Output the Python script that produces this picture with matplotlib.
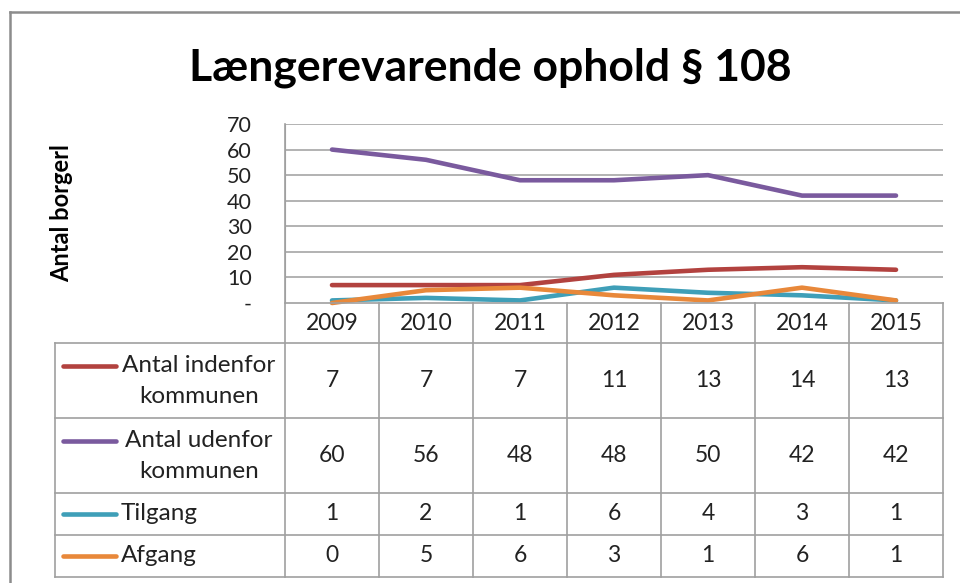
import matplotlib
matplotlib.use("Agg")
import matplotlib.pyplot as plt
import matplotlib.transforms as transforms
from matplotlib.lines import Line2D

years = ["2009", "2010", "2011", "2012", "2013", "2014", "2015"]
series_names = ["Antal indenfor\nkommunen", "Antal udenfor\nkommunen", "Tilgang", "Afgang"]
indenfor = [7, 7, 7, 11, 13, 14, 13]
udenfor = [60, 56, 48, 48, 50, 42, 42]
tilgang = [1, 2, 1, 6, 4, 3, 1]
afgang = [0, 5, 6, 3, 1, 6, 1]
series_colors = ["#B2423F", "#7A5A9E", "#3F9FB8", "#E8883A"]
yticks = [0, 10, 20, 30, 40, 50, 60, 70]
ytick_labels = ["-", "10", "20", "30", "40", "50", "60", "70"]

W, H = 960, 583
FONT = ["Lato", "DejaVu Sans"]


def fy(y):
    # image pixel row -> figure fraction
    return 1 - y / H


def fx(x):
    return x / W


def main():
    plt.rcParams['font.family'] = FONT
    fig = plt.figure(figsize=(W / 100, H / 100), dpi=100)
    fig.patch.set_facecolor("white")

    left, right, top, bottom = 285, 943, 124, 303
    ax = fig.add_axes([fx(left), fy(bottom), fx(right - left), (bottom - top) / H])
    ax.set_xlim(-0.5, 6.5)
    ax.set_ylim(0, 70)
    for s in ["top", "right", "bottom"]:
        ax.spines[s].set_visible(False)
    ax.spines["left"].set_color("#A0A0A0")
    ax.set_xticks([])
    ax.set_yticks(yticks)
    ax.set_yticklabels(ytick_labels, fontsize=15.5, color="#222222")
    ax.tick_params(axis="y", length=0, pad=24)
    for v in yticks[1:]:
        ax.axhline(v, color="#A6A6A6", lw=1.2, zorder=1)

    all_series = [indenfor, udenfor, tilgang, afgang]
    xs = list(range(len(years)))
    for vals, c in zip(all_series, series_colors):
        ax.plot(xs, vals, color=c, lw=3.3, solid_capstyle="round", clip_on=False, zorder=3)

    # title and axis label
    fig.text(fx(490), fy(68), "Længerevarende ophold § 108", ha="center", va="center",
             fontsize=32, fontweight="bold", color="black")
    fig.text(fx(62), fy(213), "Antal borgerl", rotation=90, ha="center", va="center",
             fontsize=17, fontweight="bold", color="black")

    # data table under the plot
    grid_c = "#A0A0A0"
    rows = [303, 343, 418, 493, 535, 577]
    col_edges = [left + i * (right - left) / 7 for i in range(8)]
    tab_left = 55

    def hline(y, x0, x1):
        fig.add_artist(Line2D([fx(x0), fx(x1)], [fy(y), fy(y)], color=grid_c, lw=1.2,
                              transform=fig.transFigure))

    def vline(x, y0, y1):
        fig.add_artist(Line2D([fx(x), fx(x)], [fy(y0), fy(y1)], color=grid_c, lw=1.2,
                              transform=fig.transFigure))

    hline(rows[0], left, right)
    for y in rows[1:]:
        hline(y, tab_left, right)
    vline(left, top, rows[-1])
    for x in col_edges[1:]:
        vline(x, rows[0], rows[-1])
    vline(tab_left, rows[1], rows[-1])

    trans = transforms.blended_transform_factory(ax.transData, fig.transFigure)
    for i, yr in enumerate(years):
        ax.text(i, fy((rows[0] + rows[1]) / 2), yr, transform=trans, ha="center", va="center",
                fontsize=16.5, color="#222222", clip_on=False)
    for r, (name, vals, c) in enumerate(zip(series_names, all_series, series_colors)):
        yc = (rows[r + 1] + rows[r + 2]) / 2
        for i, v in enumerate(vals):
            ax.text(i, fy(yc), str(v), transform=trans, ha="center", va="center",
                    fontsize=16.5, color="#222222", clip_on=False)
        lines = name.split("\n")
        if len(lines) == 2:
            y1 = yc - 15
            fig.text(fx(199), fy(y1), lines[0], ha="center", va="center", fontsize=17.5, color="#222222")
            fig.text(fx(199), fy(yc + 16), lines[1], ha="center", va="center", fontsize=17.5, color="#222222")
        else:
            y1 = yc
            fig.text(fx(121), fy(y1), lines[0], ha="left", va="center", fontsize=17.5, color="#222222")
        fig.add_artist(Line2D([fx(63), fx(116)], [fy(y1), fy(y1)], color=c, lw=3.3,
                              solid_capstyle="round", transform=fig.transFigure))

    # outer chart border
    fig.add_artist(Line2D([fx(10), fx(W)], [fy(12), fy(12)], color="#8C8C8C", lw=1.8,
                          transform=fig.transFigure))
    fig.add_artist(Line2D([fx(10), fx(10)], [fy(12), fy(H)], color="#8C8C8C", lw=1.8,
                          transform=fig.transFigure))

    fig.savefig("out.png", dpi=100)


if __name__ == "__main__":
    main()
